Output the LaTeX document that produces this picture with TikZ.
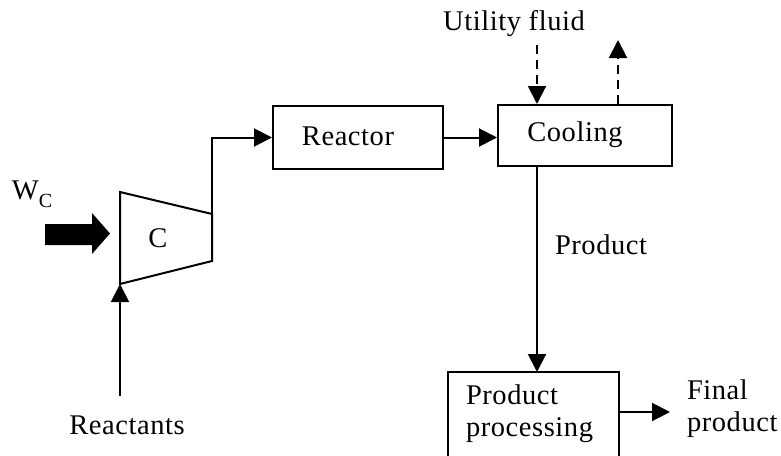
\documentclass[tikz,border=0pt]{standalone}
\usepackage{fontspec}
\setmainfont[LetterSpace=2]{Liberation Serif}
\usetikzlibrary{arrows.meta}
\begin{document}
\begin{tikzpicture}[x=1pt,y=-1pt,
  line width=2pt,
  lbl/.style={font=\fontsize{28.5}{32}\selectfont, inner sep=0pt},
  box/.style={draw, rectangle, inner sep=0pt},
  flow/.style={-{Triangle[length=18pt,width=18pt]}},
  dflow/.style={flow, dash pattern=on 9pt off 6pt}]
\clip (0,0) rectangle (781,455);
\fill[white] (0,0) rectangle (781,455);
% boxes
\node[box, minimum width=170pt, minimum height=63pt] (reactor) at (358,137.5) {};
\node[lbl] (reactorlbl) at (348,136) {Reactor};
\node[box, minimum width=174pt, minimum height=61pt] (cool) at (585,135.5) {};
\node[lbl] (coollbl) at (575,135) {Cooling};
\node[box, minimum width=171pt, minimum height=110pt] (proc) at (533.5,427) {};
\node[lbl, align=left, anchor=west] (proclbl) at (465,414) {Product\\processing};
% compressor
\coordinate (ctl) at (120,192);
\coordinate (cbl) at (120,284);
\coordinate (ctr) at (212,214);
\coordinate (cbr) at (212,261);
\draw (ctl) -- (ctr) -- (cbr) -- (cbl) -- cycle;
\node[lbl] (clbl) at (158,238) {C};
% work arrow
\fill (45,224) -- (92,224) -- (92,213) -- (110,233.5) -- (92,254) -- (92,245) -- (45,245) -- cycle;
\node[lbl, anchor=west] (wc) at (11,194) {W\raisebox{-0.28em}{\fontsize{20}{20}\selectfont C}};
% reactants
\coordinate (rin) at (120,396);
\draw[flow] (rin) -- (cbl);
\node[lbl] (reactants) at (127,425) {Reactants};
% compressor outlet to reactor
\draw[flow] (ctr) |- (reactor.west);
% reactor to cooling
\draw[flow] (reactor.east) -- (reactor.east -| cool.west);
% utility fluid
\node[lbl] (util) at (514,24) {Utility fluid};
\coordinate (uin) at (537,45);
\draw[dflow] (uin) -- (uin |- cool.north);
\coordinate (uout) at (618,40);
\draw[dflow] (uout |- cool.north) -- (uout);
% product
\draw[flow] (537,166) -- (537,372);
\node[lbl, anchor=west] (prodlbl) at (554,245) {Product};
% final product
\coordinate (fout) at (670,412);
\draw[flow] (fout -| proc.east) -- (fout);
\node[lbl, align=left, anchor=west] (final) at (686,409) {Final\\product};
\end{tikzpicture}
\end{document}
